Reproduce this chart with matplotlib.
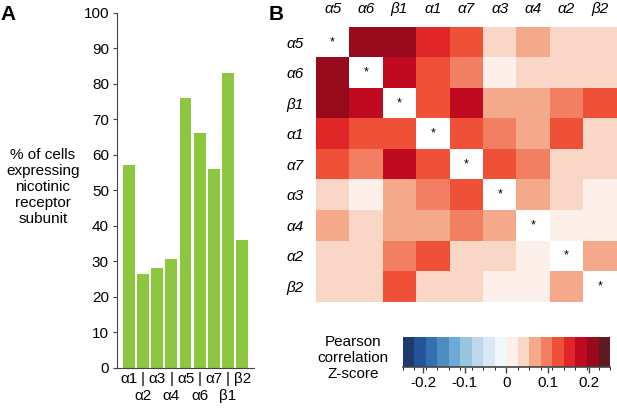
import numpy as np
import matplotlib
matplotlib.use('Agg')
import matplotlib.pyplot as plt
from matplotlib.colors import ListedColormap, BoundaryNorm
from matplotlib.cm import ScalarMappable

plt.rcParams['font.family'] = ['Liberation Sans', 'DejaVu Sans']
plt.rcParams['axes.unicode_minus'] = False

# panel A
subunits = ['α1', 'α2', 'α3', 'α4', 'α5', 'α6', 'α7', 'β1', 'β2']
pct_cells = [57, 26.5, 28, 30.5, 76, 66, 56, 83, 36]

# panel B
order = ['α5', 'α6', 'β1', 'α1', 'α7', 'α3', 'α4', 'α2', 'β2']
zscore = np.array([
    [np.nan, 0.21, 0.21, 0.15, 0.125, 0.04, 0.07, 0.04, 0.04],
    [0.21, np.nan, 0.18, 0.125, 0.10, 0.015, 0.04, 0.04, 0.04],
    [0.21, 0.18, np.nan, 0.125, 0.18, 0.07, 0.07, 0.10, 0.125],
    [0.15, 0.125, 0.125, np.nan, 0.125, 0.10, 0.07, 0.125, 0.04],
    [0.125, 0.10, 0.18, 0.125, np.nan, 0.125, 0.10, 0.04, 0.04],
    [0.04, 0.015, 0.07, 0.10, 0.125, np.nan, 0.07, 0.04, 0.015],
    [0.07, 0.04, 0.07, 0.07, 0.10, 0.07, np.nan, 0.015, 0.015],
    [0.04, 0.04, 0.10, 0.125, 0.04, 0.04, 0.015, np.nan, 0.07],
    [0.04, 0.04, 0.125, 0.04, 0.04, 0.015, 0.015, 0.07, np.nan],
])
cbar_ticks = [-0.2, -0.1, 0, 0.1, 0.2]
cbar_labels = ['-0.2', '-0.1', '0', '0.1', '0.2']

colors = ['#1f3b6e', '#23549c', '#3370b2', '#4c8ec2', '#6eaad3', '#98c5df',
          '#bed7ed', '#dae7f5', '#f2f7fd',
          '#fdf0ea', '#fad6c6', '#f4a98b', '#f37f62', '#ef5138', '#e02626',
          '#c00a22', '#960a1c', '#5e1a22']
cmap = ListedColormap(colors)
cmap.set_bad('white')
norm = BoundaryNorm(np.linspace(-0.25, 0.25, 19), cmap.N)

fig = plt.figure(figsize=(6.17, 4.08), dpi=100)
fs = 11

# ---- A: bars
ax = fig.add_axes([0.190, 0.099, 0.222, 0.870])
x = np.arange(len(subunits))
ax.bar(x, pct_cells, width=0.83, color='#8dc63f')
ax.set_xlim(-0.82, 8.85)
ax.set_ylim(0, 100)
ax.set_yticks(range(0, 101, 10))
ax.set_xticks(x)
xlabels = [s if i % 2 == 0 else '|\n' + s for i, s in enumerate(subunits)]
ax.set_xticklabels(xlabels, linespacing=1.3)
ax.tick_params(axis='x', length=0, pad=3, labelsize=fs)
ax.tick_params(axis='y', length=3, pad=3, labelsize=fs, color='#444444')
for s in ['top', 'right']:
    ax.spines[s].set_visible(False)
for s in ['left', 'bottom']:
    ax.spines[s].set_color('#444444')
fig.text(43 / 617, 1 - 187 / 408, '% of cells\nexpressing\nnicotinic\nreceptor\nsubunit',
         ha='center', va='center', fontsize=fs, linespacing=1.2)
fig.text(8 / 617, 1 - 15 / 408, 'A', ha='center', va='center', fontsize=15, fontweight='bold')
fig.text(276 / 617, 1 - 15 / 408, 'B', ha='center', va='center', fontsize=15, fontweight='bold')

# ---- B: heatmap
hx = fig.add_axes([0.512, 0.2605, 0.4875, 0.674])
hx.pcolormesh(zscore, cmap=cmap, norm=norm)
hx.set_xlim(0, 9)
hx.set_ylim(9, 0)
for i in range(len(order)):
    hx.text(i + 0.5, i + 0.5, '*', ha='center', va='center', fontsize=9)
hx.xaxis.tick_top()
hx.set_xticks(np.arange(9) + 0.5)
hx.set_xticklabels(order, fontstyle='italic')
hx.set_yticks(np.arange(9) + 0.5)
hx.set_yticklabels(order, fontstyle='italic')
hx.tick_params(length=0, labelsize=fs)
hx.tick_params(axis='x', pad=8)
hx.tick_params(axis='y', pad=9)
for s in hx.spines.values():
    s.set_visible(False)

# ---- colorbar
cax = fig.add_axes([0.6527, 0.1012, 0.336, 0.072])
cb = fig.colorbar(ScalarMappable(norm=norm, cmap=cmap), cax=cax, orientation='horizontal',
                  ticks=cbar_ticks)
cb.set_ticklabels(cbar_labels)
cb.outline.set_visible(False)
cax.plot([0, 1], [0, 0], transform=cax.transAxes, color='#444444', lw=1.2, clip_on=False)
cax.tick_params(length=4, width=1, pad=3, labelsize=fs, color='#444444')
fig.text(353 / 617, 1 - 358 / 408, 'Pearson\ncorrelation\nZ-score', ha='center', va='center',
         fontsize=fs, linespacing=1.2)

fig.savefig('out.png', dpi=100)
